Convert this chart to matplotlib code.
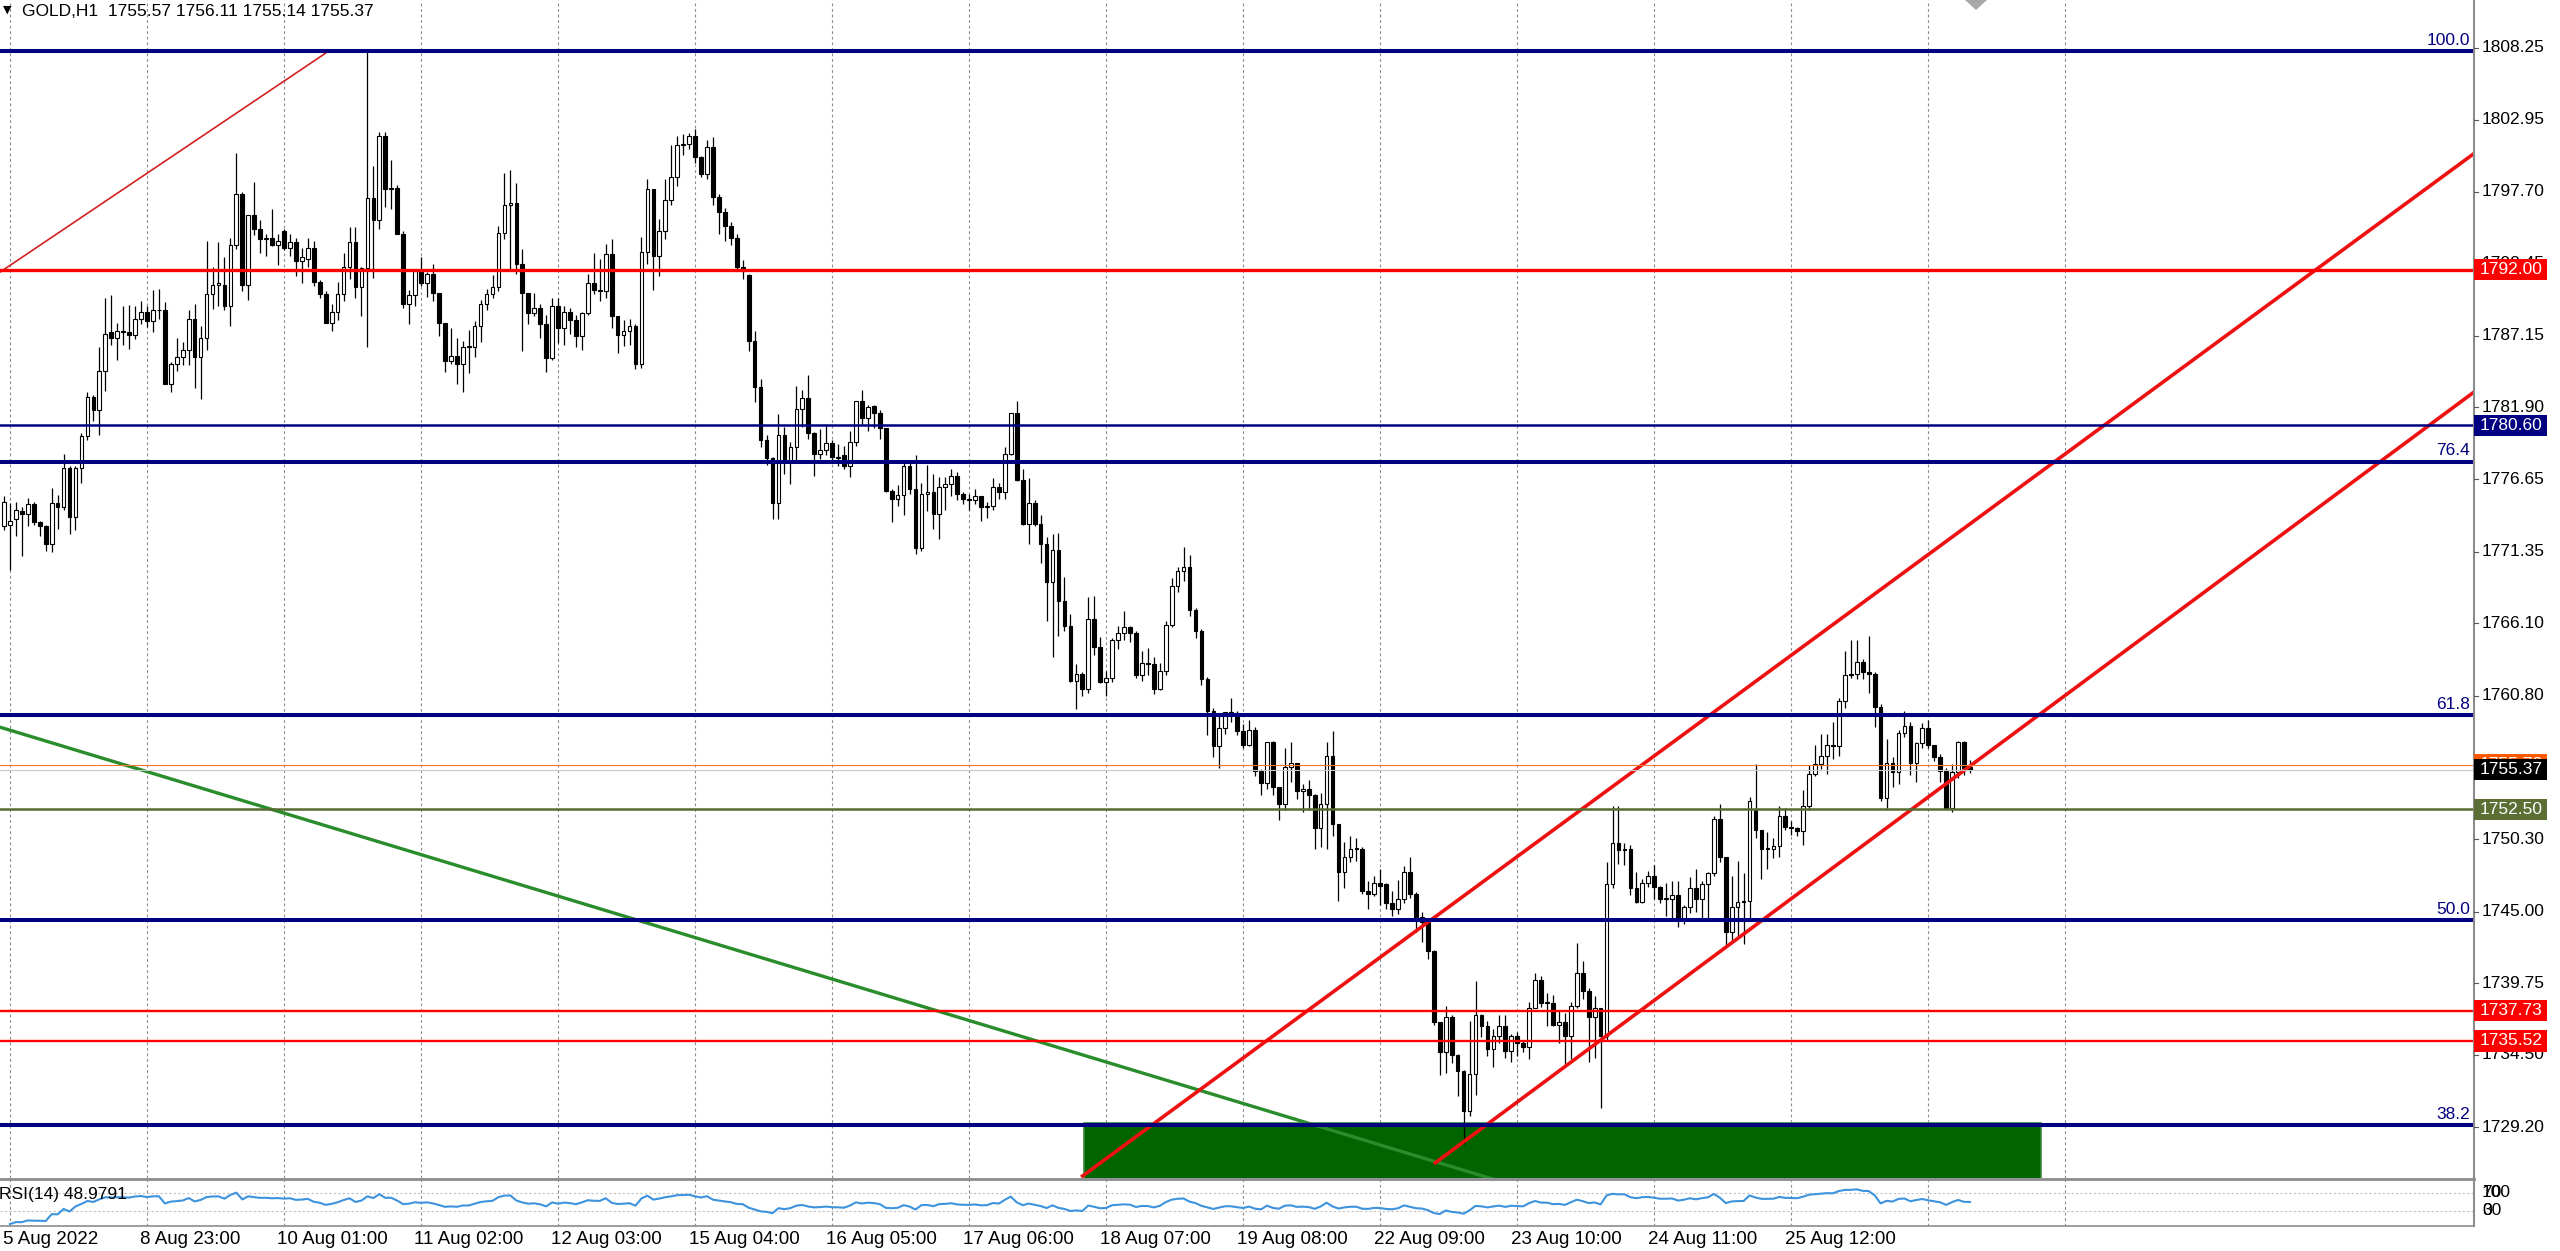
import numpy as np
import pandas as pd
import matplotlib
matplotlib.use("Agg")
import matplotlib.pyplot as plt
from matplotlib.patches import Rectangle, Polygon
from matplotlib.lines import Line2D
from matplotlib.transforms import blended_transform_factory

plt.rcParams['font.family'] = ['Liberation Sans', 'DejaVu Sans']

W, H = 2560, 1251

symbol = "GOLD,H1"

# H1 candles, oldest first
opens = [
    1773.2, 1773.3, 1773.7, 1774.3, 1774.1, 1774.8, 1773.5, 1773.2, 1771.9, 1774.9,
    1774.6, 1777.5, 1773.9, 1777.5, 1779.8, 1782.7, 1781.7, 1784.6, 1787.4, 1787.0,
    1787.5, 1787.4, 1787.2, 1788.4, 1788.9, 1788.2, 1789.0, 1789.0, 1783.6, 1785.1,
    1785.6, 1786.1, 1788.4, 1785.6, 1787.0, 1790.2, 1790.9, 1790.9, 1789.3, 1793.8,
    1797.5, 1790.9, 1796.0, 1795.0, 1794.2, 1794.3, 1793.8, 1794.8, 1793.6, 1794.0,
    1792.6, 1792.8, 1793.6, 1791.1, 1790.2, 1788.1, 1788.9, 1790.2, 1792.2, 1794.0,
    1790.7, 1792.1, 1797.2, 1795.6, 1801.8, 1797.9, 1798.0, 1794.6, 1789.5, 1790.1,
    1791.9, 1791.0, 1791.7, 1790.3, 1788.1, 1785.3, 1785.7, 1785.1, 1786.3, 1786.3,
    1787.9, 1789.5, 1790.2, 1790.7, 1794.7, 1796.7, 1796.9, 1792.4, 1790.3, 1788.8,
    1789.2, 1788.0, 1785.5, 1789.3, 1787.7, 1788.9, 1788.3, 1787.1, 1788.8, 1791.0,
    1790.5, 1790.4, 1793.1, 1788.6, 1787.2, 1787.5, 1787.9, 1785.1, 1793.3, 1797.9,
    1793.0, 1794.8, 1797.1, 1798.8, 1801.1, 1801.2, 1801.8, 1800.2, 1799.0, 1801.0,
    1797.3, 1796.2, 1795.2, 1794.3, 1792.2, 1791.6, 1786.8, 1783.4, 1779.5, 1778.2,
    1774.9, 1779.9, 1777.9, 1779.0, 1781.8, 1782.6, 1780.0, 1778.5, 1778.8, 1779.3,
    1778.3, 1778.4, 1777.6, 1779.4, 1782.4, 1781.1, 1782.0, 1781.5, 1780.4, 1775.8,
    1775.2, 1775.5, 1777.6, 1775.9, 1771.6, 1775.6, 1775.7, 1774.1, 1776.1, 1776.3,
    1776.9, 1775.6, 1775.2, 1775.1, 1775.4, 1774.6, 1774.7, 1776.1, 1775.7, 1778.5,
    1781.5, 1776.6, 1773.4, 1774.9, 1773.4, 1771.9, 1769.1, 1771.5, 1767.7, 1765.9,
    1761.9, 1762.4, 1761.3, 1766.4, 1764.4, 1761.8, 1762.1, 1764.9, 1765.4, 1765.8,
    1765.4, 1762.3, 1763.2, 1763.1, 1761.3, 1762.6, 1766.0, 1768.8, 1769.9, 1770.2,
    1767.1, 1765.5, 1762.0, 1759.7, 1757.1, 1758.4, 1759.6, 1759.5, 1758.2, 1757.2,
    1758.3, 1755.3, 1754.4, 1757.4, 1754.1, 1752.9, 1755.6, 1755.9, 1753.8, 1754.0,
    1753.5, 1751.1, 1752.9, 1756.4, 1751.4, 1747.9, 1749.0, 1749.6, 1749.6, 1746.5,
    1746.3, 1747.1, 1747.0, 1745.6, 1745.2, 1745.9, 1747.9, 1746.3, 1744.6, 1744.2,
    1742.1, 1736.9, 1734.7, 1737.3, 1734.5, 1733.3, 1730.4, 1733.1, 1737.4, 1736.6,
    1734.9, 1735.9, 1736.6, 1734.8, 1735.9, 1735.4, 1735.1, 1737.9, 1740.0, 1738.3,
    1738.3, 1736.7, 1736.9, 1735.9, 1738.1, 1740.5, 1739.2, 1737.3, 1737.9, 1735.9,
    1747.0, 1750.0, 1749.5, 1749.6, 1746.7, 1745.7, 1747.1, 1747.6, 1746.8, 1745.9,
    1745.9, 1746.2, 1744.4, 1745.3, 1746.7, 1745.9, 1747.0, 1747.8, 1751.8, 1749.0,
    1743.5, 1745.3, 1745.7, 1745.8, 1752.4, 1751.0, 1749.6, 1749.6, 1749.8, 1752.0,
    1751.2, 1751.1, 1750.9, 1752.7, 1755.1, 1755.8, 1756.4, 1757.2, 1757.1, 1760.4,
    1762.3, 1762.4, 1763.3, 1762.5, 1762.4, 1760.0, 1753.3, 1755.9, 1755.2, 1758.1,
    1758.6, 1755.9, 1757.3, 1758.4, 1757.2, 1756.3, 1755.3, 1752.6, 1755.2, 1757.4,
    1755.57,
]
highs = [
    1775.4, 1774.9, 1775.0, 1774.6, 1775.3, 1775.0, 1773.6, 1773.3, 1776.0, 1775.5,
    1778.5, 1777.6, 1777.6, 1780.0, 1783.0, 1782.8, 1786.3, 1789.9, 1790.1, 1788.1,
    1789.3, 1789.4, 1789.3, 1789.7, 1789.3, 1790.5, 1790.6, 1789.6, 1785.2, 1787.0,
    1786.7, 1789.0, 1789.5, 1787.9, 1794.1, 1792.2, 1794.0, 1792.9, 1794.3, 1800.5,
    1797.7, 1796.0, 1798.4, 1795.6, 1794.6, 1796.4, 1794.6, 1795.0, 1794.6, 1794.3,
    1793.6, 1794.3, 1794.1, 1791.2, 1790.4, 1789.5, 1791.1, 1793.2, 1795.1, 1795.1,
    1792.2, 1807.96, 1799.6, 1802.1, 1802.1, 1800.0, 1798.2, 1794.8, 1790.5, 1792.0,
    1792.9, 1791.8, 1792.4, 1790.3, 1788.1, 1787.7, 1787.0, 1786.8, 1787.6, 1788.2,
    1789.8, 1790.6, 1791.6, 1795.2, 1799.1, 1799.3, 1798.3, 1793.5, 1790.3, 1790.3,
    1789.5, 1788.7, 1789.9, 1789.9, 1789.3, 1789.2, 1788.7, 1788.9, 1791.7, 1793.2,
    1792.8, 1793.9, 1794.2, 1788.6, 1788.3, 1788.4, 1788.0, 1794.4, 1798.6, 1797.9,
    1795.7, 1798.6, 1801.1, 1801.8, 1801.9, 1802.0, 1802.3, 1800.3, 1801.5, 1801.7,
    1797.5, 1796.5, 1795.5, 1794.6, 1792.7, 1791.7, 1787.5, 1784.0, 1779.9, 1778.3,
    1781.4, 1780.5, 1779.4, 1783.5, 1783.2, 1784.3, 1780.1, 1780.3, 1780.7, 1779.5,
    1779.2, 1779.1, 1780.2, 1782.4, 1783.2, 1782.1, 1782.1, 1781.7, 1780.4, 1775.9,
    1776.2, 1777.8, 1777.9, 1778.4, 1776.4, 1777.7, 1777.0, 1776.8, 1776.8, 1777.4,
    1777.2, 1775.7, 1775.6, 1775.9, 1775.4, 1775.0, 1776.7, 1776.4, 1779.0, 1781.5,
    1782.4, 1777.4, 1776.7, 1775.1, 1774.0, 1772.4, 1772.6, 1772.7, 1769.5, 1766.8,
    1763.1, 1762.5, 1768.0, 1768.1, 1765.1, 1762.6, 1765.0, 1765.9, 1767.0, 1765.9,
    1765.5, 1764.1, 1764.3, 1763.6, 1763.2, 1766.3, 1769.4, 1770.2, 1771.7, 1771.1,
    1767.2, 1765.7, 1762.2, 1759.9, 1759.5, 1759.6, 1760.6, 1759.7, 1758.7, 1759.0,
    1758.5, 1755.4, 1757.4, 1757.5, 1754.1, 1757.0, 1757.4, 1755.9, 1754.3, 1754.6,
    1753.6, 1753.7, 1757.4, 1758.2, 1751.4, 1750.1, 1750.5, 1750.4, 1749.7, 1747.2,
    1747.6, 1748.1, 1747.1, 1746.5, 1747.3, 1748.3, 1749.0, 1746.4, 1745.0, 1744.3,
    1742.2, 1736.9, 1738.1, 1737.4, 1734.6, 1733.4, 1737.0, 1739.9, 1737.5, 1737.0,
    1736.4, 1737.4, 1737.4, 1736.0, 1736.2, 1735.6, 1738.4, 1740.5, 1740.3, 1739.0,
    1738.9, 1737.7, 1737.6, 1738.4, 1742.7, 1741.4, 1739.4, 1738.8, 1737.9, 1748.6,
    1752.7, 1752.7, 1750.0, 1749.9, 1747.9, 1747.4, 1748.0, 1748.4, 1746.9, 1747.1,
    1747.2, 1747.2, 1745.5, 1747.5, 1748.1, 1747.2, 1747.9, 1752.0, 1752.9, 1749.0,
    1747.6, 1748.7, 1747.8, 1753.4, 1755.8, 1751.0, 1750.8, 1750.4, 1752.7, 1752.6,
    1751.6, 1751.2, 1753.9, 1755.7, 1757.2, 1758.0, 1758.0, 1758.9, 1760.6, 1764.1,
    1764.9, 1764.9, 1763.5, 1765.2, 1762.5, 1760.2, 1757.6, 1756.3, 1758.3, 1759.7,
    1758.9, 1757.4, 1758.8, 1759.0, 1757.2, 1756.5, 1755.5, 1755.8, 1757.5, 1757.5,
    1756.11,
]
lows = [
    1772.9, 1770.0, 1772.5, 1771.0, 1773.2, 1773.3, 1772.5, 1771.4, 1771.3, 1773.0,
    1774.4, 1772.6, 1772.9, 1776.4, 1779.5, 1780.9, 1779.9, 1783.1, 1786.5, 1785.4,
    1786.5, 1786.2, 1786.9, 1788.0, 1787.8, 1787.4, 1788.4, 1783.6, 1783.0, 1784.6,
    1785.0, 1785.0, 1783.3, 1782.5, 1786.1, 1789.1, 1789.3, 1789.0, 1787.9, 1793.5,
    1790.4, 1789.8, 1794.5, 1793.2, 1793.0, 1793.7, 1792.3, 1793.4, 1793.0, 1791.5,
    1791.0, 1792.2, 1790.8, 1789.9, 1788.1, 1787.5, 1788.3, 1789.7, 1791.3, 1789.9,
    1788.6, 1786.3, 1791.4, 1795.0, 1796.6, 1796.4, 1794.6, 1789.2, 1788.0, 1789.3,
    1790.8, 1790.0, 1789.7, 1787.1, 1784.5, 1785.1, 1783.6, 1783.0, 1784.4, 1785.6,
    1786.7, 1789.0, 1789.9, 1790.4, 1794.2, 1791.9, 1791.7, 1786.0, 1788.0, 1788.6,
    1787.0, 1784.5, 1785.4, 1786.6, 1786.5, 1787.3, 1786.3, 1786.1, 1788.7, 1790.2,
    1789.7, 1789.9, 1787.7, 1785.9, 1786.4, 1786.5, 1784.7, 1784.8, 1792.4, 1790.5,
    1791.5, 1794.2, 1796.7, 1798.1, 1800.4, 1800.8, 1799.8, 1798.8, 1798.6, 1796.7,
    1794.6, 1794.1, 1793.8, 1791.9, 1791.3, 1786.0, 1782.3, 1779.0, 1777.7, 1773.7,
    1773.7, 1777.0, 1776.3, 1777.8, 1780.5, 1779.6, 1776.9, 1778.1, 1778.4, 1778.0,
    1777.6, 1777.4, 1776.8, 1779.1, 1780.7, 1780.2, 1780.4, 1779.6, 1775.7, 1773.5,
    1774.7, 1774.0, 1775.6, 1771.2, 1771.4, 1774.3, 1773.0, 1772.3, 1774.4, 1775.4,
    1775.1, 1774.8, 1774.4, 1774.8, 1773.6, 1773.8, 1774.4, 1775.2, 1775.2, 1778.4,
    1776.5, 1773.3, 1771.9, 1773.2, 1770.5, 1766.3, 1763.6, 1765.2, 1765.5, 1761.8,
    1759.8, 1760.8, 1761.0, 1763.8, 1761.7, 1760.8, 1761.8, 1764.2, 1764.9, 1764.7,
    1762.1, 1761.9, 1762.3, 1760.9, 1761.2, 1762.3, 1765.8, 1768.4, 1769.2, 1766.6,
    1765.0, 1761.6, 1757.9, 1756.3, 1755.5, 1758.0, 1758.9, 1757.9, 1757.0, 1757.1,
    1754.9, 1753.5, 1754.0, 1753.5, 1751.7, 1752.4, 1754.5, 1753.2, 1752.3, 1752.4,
    1749.6, 1749.7, 1749.6, 1750.5, 1745.8, 1746.7, 1748.6, 1748.7, 1746.3, 1745.2,
    1746.1, 1745.5, 1745.2, 1744.7, 1744.8, 1745.6, 1746.0, 1743.5, 1742.8, 1741.5,
    1736.7, 1733.0, 1733.2, 1733.9, 1731.5, 1728.0, 1730.0, 1731.6, 1735.8, 1734.4,
    1733.6, 1735.4, 1734.3, 1734.0, 1734.4, 1734.7, 1734.2, 1737.9, 1738.0, 1736.6,
    1736.6, 1735.4, 1733.6, 1734.2, 1737.9, 1738.6, 1734.0, 1734.3, 1730.6, 1735.5,
    1746.7, 1748.5, 1748.4, 1746.2, 1745.6, 1745.6, 1746.8, 1745.9, 1745.6, 1744.7,
    1744.4, 1743.9, 1744.1, 1744.9, 1745.0, 1744.5, 1744.3, 1747.6, 1748.6, 1742.5,
    1742.7, 1743.0, 1742.6, 1744.3, 1750.4, 1747.4, 1748.1, 1748.9, 1749.0, 1751.0,
    1750.6, 1750.5, 1749.9, 1752.4, 1754.9, 1755.4, 1755.1, 1756.2, 1756.4, 1759.9,
    1762.1, 1762.0, 1762.0, 1761.0, 1758.5, 1753.1, 1752.6, 1754.1, 1754.3, 1757.8,
    1755.0, 1754.5, 1757.0, 1757.0, 1756.0, 1754.5, 1752.5, 1752.3, 1754.8, 1755.0,
    1755.14,
]
closes = [
    1775.0, 1773.6, 1774.4, 1774.1, 1774.8, 1773.5, 1773.2, 1771.9, 1774.9, 1774.6,
    1777.5, 1773.9, 1777.5, 1779.8, 1782.7, 1781.7, 1784.6, 1787.3, 1787.0, 1787.5,
    1787.4, 1787.2, 1788.4, 1788.9, 1788.2, 1789.0, 1789.0, 1783.6, 1785.1, 1785.6,
    1786.1, 1788.4, 1785.6, 1787.0, 1790.2, 1790.9, 1791.0, 1789.3, 1793.8, 1797.5,
    1790.9, 1796.0, 1795.0, 1794.2, 1794.3, 1793.8, 1794.1, 1793.6, 1794.0, 1792.6,
    1792.9, 1793.6, 1791.1, 1790.2, 1788.1, 1788.9, 1790.2, 1792.2, 1794.0, 1790.7,
    1792.1, 1797.2, 1795.6, 1801.8, 1797.9, 1798.0, 1794.6, 1789.5, 1790.1, 1791.9,
    1791.0, 1791.7, 1790.3, 1788.1, 1785.3, 1785.7, 1785.1, 1786.3, 1786.3, 1787.9,
    1789.5, 1790.2, 1790.7, 1794.7, 1796.7, 1796.9, 1792.4, 1790.3, 1788.8, 1789.2,
    1788.0, 1785.5, 1789.3, 1787.7, 1788.9, 1788.3, 1787.1, 1788.8, 1791.0, 1790.5,
    1790.4, 1793.1, 1788.6, 1787.2, 1787.5, 1787.9, 1785.1, 1793.3, 1797.9, 1793.0,
    1794.8, 1797.1, 1798.8, 1801.1, 1801.2, 1801.8, 1800.2, 1799.0, 1801.0, 1797.3,
    1796.2, 1795.2, 1794.3, 1792.2, 1791.9, 1786.8, 1783.4, 1779.5, 1778.2, 1774.9,
    1779.9, 1777.9, 1779.0, 1781.8, 1782.6, 1780.0, 1778.5, 1778.8, 1779.3, 1778.3,
    1778.2, 1777.6, 1779.4, 1782.4, 1781.1, 1781.9, 1781.5, 1780.4, 1775.8, 1775.2,
    1775.5, 1777.6, 1775.9, 1771.6, 1775.6, 1775.7, 1774.1, 1776.1, 1776.3, 1776.9,
    1775.6, 1775.2, 1775.1, 1775.4, 1774.6, 1774.7, 1776.1, 1775.7, 1778.5, 1781.5,
    1776.6, 1773.4, 1774.9, 1773.4, 1771.9, 1769.1, 1771.5, 1767.7, 1765.9, 1761.9,
    1762.4, 1761.3, 1766.4, 1764.4, 1761.8, 1762.1, 1764.9, 1765.4, 1765.8, 1765.4,
    1762.3, 1763.2, 1763.1, 1761.3, 1762.6, 1766.0, 1768.8, 1769.9, 1770.2, 1767.1,
    1765.5, 1762.0, 1759.7, 1757.1, 1758.4, 1759.6, 1759.5, 1758.2, 1757.2, 1758.3,
    1755.3, 1754.4, 1757.4, 1754.1, 1752.9, 1755.6, 1755.9, 1753.8, 1754.0, 1753.5,
    1751.1, 1752.9, 1756.4, 1751.4, 1747.9, 1749.0, 1749.6, 1749.6, 1746.5, 1746.3,
    1747.1, 1746.9, 1745.6, 1745.2, 1745.9, 1747.9, 1746.3, 1744.6, 1744.2, 1742.1,
    1736.9, 1734.7, 1737.3, 1734.5, 1733.3, 1730.4, 1733.1, 1737.4, 1736.6, 1734.9,
    1735.9, 1736.6, 1734.8, 1735.9, 1735.4, 1735.1, 1737.9, 1740.0, 1738.3, 1738.3,
    1736.7, 1736.9, 1735.9, 1738.1, 1740.5, 1739.2, 1737.3, 1737.9, 1735.9, 1747.0,
    1750.0, 1749.5, 1749.6, 1746.7, 1745.7, 1747.1, 1747.6, 1746.8, 1745.9, 1745.9,
    1746.2, 1744.4, 1745.3, 1746.7, 1745.9, 1747.0, 1747.8, 1751.8, 1749.0, 1743.5,
    1745.3, 1745.7, 1745.8, 1753.1, 1751.0, 1749.6, 1749.6, 1749.8, 1752.0, 1751.2,
    1751.1, 1750.9, 1752.7, 1755.1, 1755.8, 1756.4, 1757.2, 1757.1, 1760.4, 1762.3,
    1762.4, 1763.3, 1762.5, 1762.4, 1760.0, 1753.3, 1755.9, 1755.2, 1758.1, 1758.6,
    1755.9, 1757.3, 1758.4, 1757.2, 1756.3, 1755.3, 1752.6, 1755.2, 1757.4, 1755.5,
    1755.37,
]

date_labels = ["5 Aug 2022", "8 Aug 23:00", "10 Aug 01:00", "11 Aug 02:00",
               "12 Aug 03:00", "15 Aug 04:00", "16 Aug 05:00", "17 Aug 06:00",
               "18 Aug 07:00", "19 Aug 08:00", "22 Aug 09:00", "23 Aug 10:00",
               "24 Aug 11:00", "25 Aug 12:00"]
first_grid_bar = 1
bars_per_grid = 23
n_grid = 16

price_ticks = [1808.25, 1802.95, 1797.70, 1792.45, 1787.15, 1781.90, 1776.65,
               1771.35, 1766.10, 1760.80, 1755.55, 1750.30, 1745.00, 1739.75,
               1734.50, 1729.20]

fib_high = 1807.96
fib_low = 1680.76
fib_ratios = [100.0, 76.4, 61.8, 50.0, 38.2]

red_levels = [1792.00, 1737.73, 1735.52]
blue_level = 1780.60
olive_level = 1752.50
ask_price = 1755.73
rsi_text = "RSI(14) 48.9791"

# trendline anchors (bar index, price)
channel_upper = [(180.8, 1725.56), (414.6, 1800.49)]
channel_lower = [(240.0, 1726.52), (414.6, 1783.03)]
thin_red = [(-0.7, 1791.8), (54.4, 1807.96)]
green_trend = [(-0.7, 1758.5), (250.0, 1725.4)]
zone_bars = (181.3, 342.0)
zone_prices = (1720.0, 1729.5)

# ---------------------------------------------------------------
fig = plt.figure(figsize=(W / 100, H / 100), dpi=100)
fig.patch.set_facecolor('white')

AXR = 2474      # right edge of the panes (px)
MAIN_B = 1178   # bottom of price pane (px)
RSI_T, RSI_B = 1180, 1226

ax = fig.add_axes([0, 1 - MAIN_B / H, AXR / W, MAIN_B / H])
rax = fig.add_axes([0, 1 - RSI_B / H, AXR / W, (RSI_B - RSI_T) / H])
for a in (ax, rax):
    a.set_axis_off()
    a.set_xlim(-0.671, 414.6)
ax.set_ylim(1725.49, 1811.73)
rax.set_ylim(-4.4, 97.8)

x = np.arange(len(closes))
o = np.array(opens)
h = np.array(highs)
l = np.array(lows)
c = np.array(closes)

# grid
for g in range(n_grid):
    b = first_grid_bar + g * bars_per_grid
    for a in (ax, rax):
        a.axvline(b, color='#8c8c8c', lw=0.8, ls=(0, (2.5, 2.5)), zorder=0.5)

# zone rectangle
ax.add_patch(Rectangle((zone_bars[0], zone_prices[0]), zone_bars[1] - zone_bars[0],
                       zone_prices[1] - zone_prices[0], facecolor='#006400',
                       edgecolor='#3a8a3a', lw=1.2, zorder=1))

# candles
ax.vlines(x, l, h, color='black', lw=0.9, zorder=2)
body_lo = np.minimum(o, c)
body_h = np.maximum(np.abs(c - o), 0.07)
bull = c >= o
ax.bar(x[bull], body_h[bull], bottom=body_lo[bull], width=0.62, facecolor='white',
       edgecolor='black', lw=0.8, zorder=3)
ax.bar(x[~bull], body_h[~bull], bottom=body_lo[~bull], width=0.62, facecolor='black',
       edgecolor='black', lw=0.8, zorder=3)

# trend lines
def trend(pts, color, lw, ext=True):
    (b0, p0), (b1, p1) = pts
    if ext:
        s = (p1 - p0) / (b1 - b0)
        b1e = 420
        p1 = p0 + s * (b1e - b0)
        b1 = b1e
    ax.plot([b0, b1], [p0, p1], color=color, lw=lw, zorder=4, solid_capstyle='butt')

trend(green_trend, '#2a8c2a', 2.4, ext=False)
trend(thin_red, '#d42020', 1.2, ext=False)
trend(channel_upper, '#ee1111', 2.6)
trend(channel_lower, '#ee1111', 2.6)

# horizontal levels
ax.axhline(ask_price, color='#ee7733', lw=0.8, zorder=4)
ax.axhline(closes[-1], color='#c8c8c8', lw=0.8, zorder=4)
ax.axhline(olive_level, color='#556b2f', lw=1.8, zorder=5)
for p in red_levels:
    ax.axhline(p, color='#ff0000', lw=2.4 if p == red_levels[0] else 1.7, zorder=5)
ax.axhline(blue_level, color='#000080', lw=1.8, zorder=5)
fib_prices = [fib_low + r / 100 * (fib_high - fib_low) for r in fib_ratios]
for r, p in zip(fib_ratios, fib_prices):
    ax.axhline(p, color='#000080', lw=2.9, zorder=6)

# ---- right price axis
blend = blended_transform_factory(fig.transFigure, ax.transData)
fig.add_artist(Line2D([AXR / W, AXR / W], [1, 1 - RSI_B / H], color='#8c8c8c', lw=1.5))
fig.add_artist(Line2D([0, AXR / W], [1 - 1179 / H, 1 - 1179 / H], color='#8c8c8c', lw=2.0))
fig.add_artist(Line2D([0, AXR / W], [1 - RSI_B / H, 1 - RSI_B / H], color='#8c8c8c', lw=1.2))

FS = 12.5
for p in price_ticks:
    fig.add_artist(Line2D([AXR / W, (AXR + 4) / W], [p, p], transform=blend,
                          color='#555555', lw=0.8))
    fig.text((AXR + 8) / W, p, f"{p:.2f}", transform=blend, va='center', ha='left',
             fontsize=FS, color='black', zorder=2)

for r, p in zip(fib_ratios, fib_prices):
    fig.text((AXR - 4) / W, p + 0.25, f"{r:.1f}", transform=blend, va='bottom',
             ha='right', fontsize=FS, color='#000080')

box_z = [10]

def price_box(p, color, txt_color='white'):
    z = box_z[0]
    box_z[0] += 2
    fig.add_artist(Rectangle((AXR / W, p - 0.77), 73 / W, 1.54, transform=blend,
                             facecolor=color, edgecolor='none', zorder=z))
    fig.text((AXR + 6) / W, p, f"{p:.2f}", transform=blend, va='center', ha='left',
             fontsize=FS, color=txt_color, zorder=z + 1)

price_box(red_levels[0], '#ff0000')
price_box(blue_level, '#000080')
price_box(ask_price, '#ff5a00')
price_box(closes[-1], '#000000')
price_box(olive_level, '#5b6f35')
price_box(red_levels[1], '#ff0000')
price_box(red_levels[2], '#ff0000')

# ---- RSI pane
cs = pd.Series(closes)
d = cs.diff()
up = d.clip(lower=0).ewm(alpha=1 / 14, adjust=False).mean()
dn = (-d.clip(upper=0)).ewm(alpha=1 / 14, adjust=False).mean()
rsi = 100 - 100 / (1 + up / dn)
rax.axhline(70, color='#c0c0c0', lw=0.8, ls=(0, (2, 2)), zorder=1)
rax.axhline(30, color='#c0c0c0', lw=0.8, ls=(0, (2, 2)), zorder=1)
rax.plot(x[1:], rsi.values[1:], color='#3d93de', lw=1.5, zorder=3)
rblend = blended_transform_factory(fig.transFigure, rax.transData)
for lab, lvl in [("100", 70), ("70", 70), ("30", 30), ("0", 30)]:
    fig.text((AXR + 8) / W, lvl, lab, transform=rblend, va='center', ha='left',
             fontsize=FS, color='black')
fig.text(-1 / W, 1 - 1195 / H, rsi_text, va='center', ha='left', fontsize=FS, color='black')

# ---- date labels
xblend = blended_transform_factory(ax.transData, fig.transFigure)
for g, lab in enumerate(date_labels):
    b = first_grid_bar + g * bars_per_grid
    fig.text(b - 1.1, 1 - 1240 / H, lab, transform=xblend, va='center', ha='left',
             fontsize=13.5, color='black')

# ---- header
fig.text(3 / W, 1 - 10 / H, "\u25BC", va='center', ha='left', fontsize=8,
         color='black', family='DejaVu Sans')
fig.text(22 / W, 1 - 11 / H,
         f"{symbol}  {opens[-1]:.2f} {highs[-1]:.2f} {lows[-1]:.2f} {closes[-1]:.2f}",
         va='center', ha='left', fontsize=FS, color='black')

# chart shift marker
fig.add_artist(Polygon([(1965 / W, 1), (1987 / W, 1), (1976 / W, 1 - 10 / H)],
                       closed=True, transform=fig.transFigure, facecolor='#a8a8a8',
                       edgecolor='none'))

fig.savefig('out.png', dpi=100, facecolor='white')
